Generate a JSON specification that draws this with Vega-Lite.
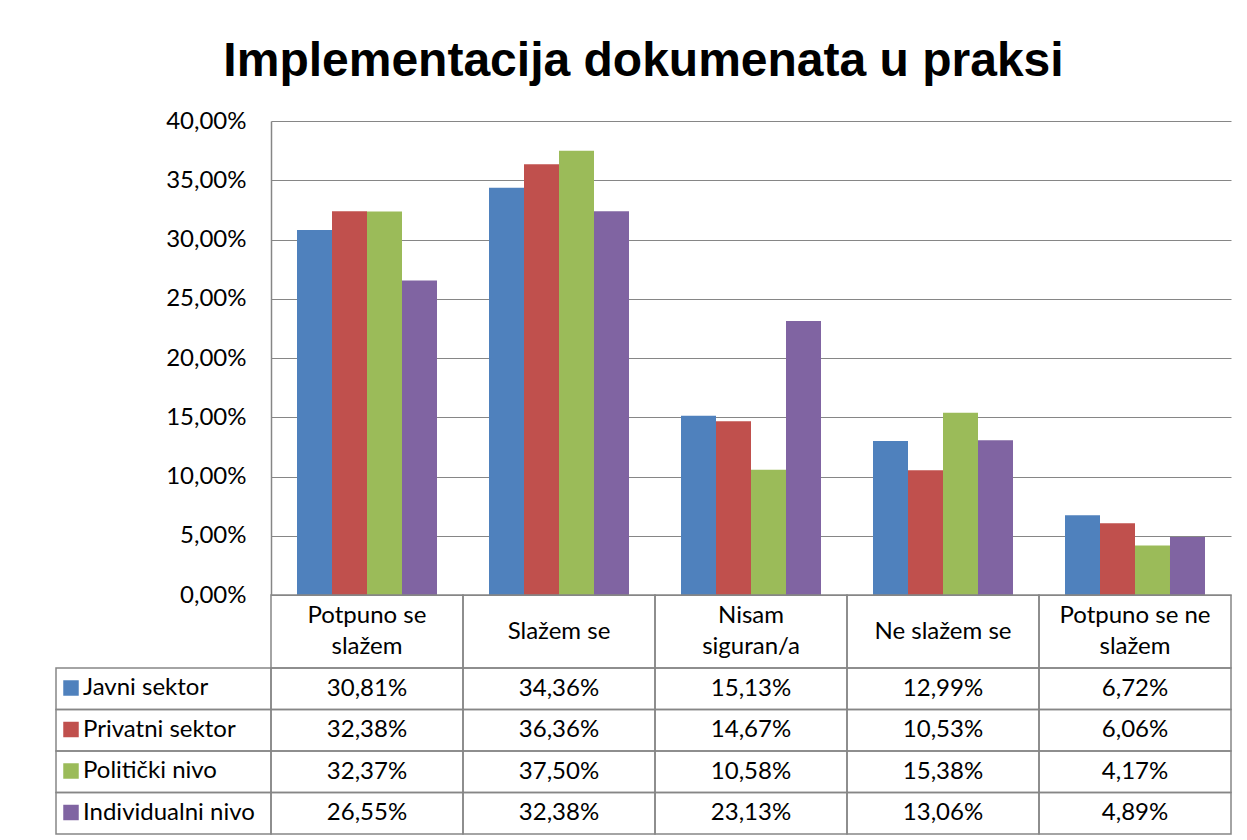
{
  "$schema": "https://vega.github.io/schema/vega-lite/v6.json",
  "autosize": {"type": "pad"},
  "padding": {"left": 55, "top": 38, "right": 5, "bottom": 0},
  "background": "white",
  "title": {
    "text": "Implementacija dokumenata u praksi",
    "font": "Liberation Sans",
    "fontSize": 48,
    "fontWeight": "bold",
    "color": "black",
    "anchor": "middle",
    "frame": "bounds",
    "baseline": "alphabetic",
    "offset": -15
  },
  "datasets": {
    "vals": [
      {"series": "Javni sektor", "category": "Potpuno se slažem", "value": 0.3081},
      {"series": "Javni sektor", "category": "Slažem se", "value": 0.3436},
      {"series": "Javni sektor", "category": "Nisam siguran/a", "value": 0.1513},
      {"series": "Javni sektor", "category": "Ne slažem se", "value": 0.1299},
      {"series": "Javni sektor", "category": "Potpuno se ne slažem", "value": 0.0672},
      {"series": "Privatni sektor", "category": "Potpuno se slažem", "value": 0.3238},
      {"series": "Privatni sektor", "category": "Slažem se", "value": 0.3636},
      {"series": "Privatni sektor", "category": "Nisam siguran/a", "value": 0.1467},
      {"series": "Privatni sektor", "category": "Ne slažem se", "value": 0.1053},
      {"series": "Privatni sektor", "category": "Potpuno se ne slažem", "value": 0.0606},
      {"series": "Politički nivo", "category": "Potpuno se slažem", "value": 0.3237},
      {"series": "Politički nivo", "category": "Slažem se", "value": 0.375},
      {"series": "Politički nivo", "category": "Nisam siguran/a", "value": 0.1058},
      {"series": "Politički nivo", "category": "Ne slažem se", "value": 0.1538},
      {"series": "Politički nivo", "category": "Potpuno se ne slažem", "value": 0.0417},
      {"series": "Individualni nivo", "category": "Potpuno se slažem", "value": 0.2655},
      {"series": "Individualni nivo", "category": "Slažem se", "value": 0.3238},
      {"series": "Individualni nivo", "category": "Nisam siguran/a", "value": 0.2313},
      {"series": "Individualni nivo", "category": "Ne slažem se", "value": 0.1306},
      {"series": "Individualni nivo", "category": "Potpuno se ne slažem", "value": 0.0489}
    ],
    "cats": [
      {"category": "Potpuno se slažem", "label": "Potpuno se\nslažem"},
      {"category": "Slažem se", "label": "Slažem se"},
      {"category": "Nisam siguran/a", "label": "Nisam\nsiguran/a"},
      {"category": "Ne slažem se", "label": "Ne slažem se"},
      {"category": "Potpuno se ne slažem", "label": "Potpuno se ne\nslažem"}
    ],
    "series": [
      {"series": "Javni sektor"},
      {"series": "Privatni sektor"},
      {"series": "Politički nivo"},
      {"series": "Individualni nivo"}
    ],
    "blank": [{"t": ""}]
  },
  "columns": 2,
  "spacing": 0,
  "bounds": "flush",
  "concat": [
    {
      "width": 215, "height": 474,
      "data": {"name": "blank"},
      "mark": {"type": "text"},
      "encoding": {"text": {"field": "t"}}
    },
    {
      "width": 960, "height": 474,
      "data": {"name": "vals"},
      "mark": {"type": "bar"},
      "encoding": {
        "x": {
          "field": "category", "type": "nominal",
          "sort": ["Potpuno se slažem", "Slažem se", "Nisam siguran/a", "Ne slažem se", "Potpuno se ne slažem"],
          "scale": {"paddingInner": 0, "paddingOuter": 0},
          "axis": null
        },
        "xOffset": {
          "field": "series", "type": "nominal",
          "sort": ["Javni sektor", "Privatni sektor", "Politički nivo", "Individualni nivo"],
          "scale": {"paddingInner": 0, "paddingOuter": 0.743}
        },
        "y": {
          "field": "value", "type": "quantitative",
          "scale": {"domain": [0, 0.4], "nice": false},
          "axis": {
            "values": [0, 0.05, 0.1, 0.15, 0.2, 0.25, 0.3, 0.35, 0.4],
            "format": ".2%",
            "title": null,
            "ticks": false,
            "labelPadding": 25,
            "labelFont": "Lato",
            "labelFontSize": 24,
            "labelColor": "black",
            "labelFlush": false,
            "grid": true,
            "gridColor": "#868686",
            "gridWidth": 1,
            "domainColor": "#868686",
            "domainWidth": 1.5
          }
        },
        "color": {
          "field": "series", "type": "nominal",
          "scale": {
            "domain": ["Javni sektor", "Privatni sektor", "Politički nivo", "Individualni nivo"],
            "range": ["#4F81BD", "#C0504D", "#9BBB59", "#8064A2"]
          },
          "legend": {
            "orient": "none",
            "legendX": 3,
            "legendY": 555,
            "title": null,
            "symbolType": "square",
            "symbolSize": 240,
            "symbolStrokeWidth": 0,
            "symbolOffset": 0,
            "labelOffset": 0,
            "labelFont": "Lato",
            "labelFontSize": 24,
            "labelLimit": 400,
            "labelColor": "black",
            "rowPadding": 17.5,
            "padding": 0
          }
        }
      }
    },
    {
      "width": 215, "height": 73,
      "data": {"name": "blank"},
      "mark": {"type": "text"},
      "encoding": {"text": {"field": "t"}}
    },
    {
      "width": 960, "height": 73,
      "data": {"name": "cats"},
      "layer": [
        {
          "mark": {"type": "rect", "fill": "transparent", "stroke": "#868686", "strokeWidth": 1.5},
          "encoding": {
            "x": {
              "field": "category", "type": "nominal",
              "sort": ["Potpuno se slažem", "Slažem se", "Nisam siguran/a", "Ne slažem se", "Potpuno se ne slažem"],
              "scale": {"paddingInner": 0, "paddingOuter": 0},
              "axis": null
            }
          }
        },
        {
          "transform": [{"filter": "indexof(datum.label, '\\n') < 0"}],
          "mark": {"type": "text", "font": "Lato", "fontSize": 24, "baseline": "middle", "color": "black"},
          "encoding": {
            "x": {
              "field": "category", "type": "nominal",
              "sort": ["Potpuno se slažem", "Slažem se", "Nisam siguran/a", "Ne slažem se", "Potpuno se ne slažem"],
              "axis": null
            },
            "text": {"field": "label"}
          }
        },
        {
          "transform": [{"filter": "indexof(datum.label, '\\n') >= 0"}],
          "mark": {"type": "text", "lineBreak": "\n", "font": "Lato", "fontSize": 24, "lineHeight": 31, "baseline": "middle", "dy": -15.5, "color": "black"},
          "encoding": {
            "x": {
              "field": "category", "type": "nominal",
              "sort": ["Potpuno se slažem", "Slažem se", "Nisam siguran/a", "Ne slažem se", "Potpuno se ne slažem"],
              "axis": null
            },
            "text": {"field": "label"}
          }
        }
      ]
    },
    {
      "width": 215, "height": 166,
      "data": {"name": "series"},
      "mark": {"type": "rect", "fill": "transparent", "stroke": "#868686", "strokeWidth": 1.5},
      "encoding": {
        "y": {
          "field": "series", "type": "nominal",
          "sort": ["Javni sektor", "Privatni sektor", "Politički nivo", "Individualni nivo"],
          "scale": {"paddingInner": 0, "paddingOuter": 0},
          "axis": null
        }
      }
    },
    {
      "width": 960, "height": 166,
      "data": {"name": "vals"},
      "layer": [
        {
          "mark": {"type": "rect", "fill": "transparent", "stroke": "#868686", "strokeWidth": 1.5},
          "encoding": {
            "x": {
              "field": "category", "type": "nominal",
              "sort": ["Potpuno se slažem", "Slažem se", "Nisam siguran/a", "Ne slažem se", "Potpuno se ne slažem"],
              "scale": {"paddingInner": 0, "paddingOuter": 0},
              "axis": null
            },
            "y": {
              "field": "series", "type": "nominal",
              "sort": ["Javni sektor", "Privatni sektor", "Politički nivo", "Individualni nivo"],
              "scale": {"paddingInner": 0, "paddingOuter": 0},
              "axis": null
            }
          }
        },
        {
          "mark": {"type": "text", "font": "Lato", "fontSize": 24, "baseline": "middle", "color": "black"},
          "encoding": {
            "x": {
              "field": "category", "type": "nominal",
              "sort": ["Potpuno se slažem", "Slažem se", "Nisam siguran/a", "Ne slažem se", "Potpuno se ne slažem"],
              "axis": null
            },
            "y": {
              "field": "series", "type": "nominal",
              "sort": ["Javni sektor", "Privatni sektor", "Politički nivo", "Individualni nivo"],
              "axis": null
            },
            "text": {"field": "value", "type": "quantitative", "format": ".2%"}
          }
        }
      ]
    }
  ],
  "config": {
    "view": {"stroke": null},
    "font": "Lato",
    "locale": {
      "number": {"decimal": ",", "thousands": ".", "grouping": [3], "currency": ["", " €"]}
    }
  }
}
